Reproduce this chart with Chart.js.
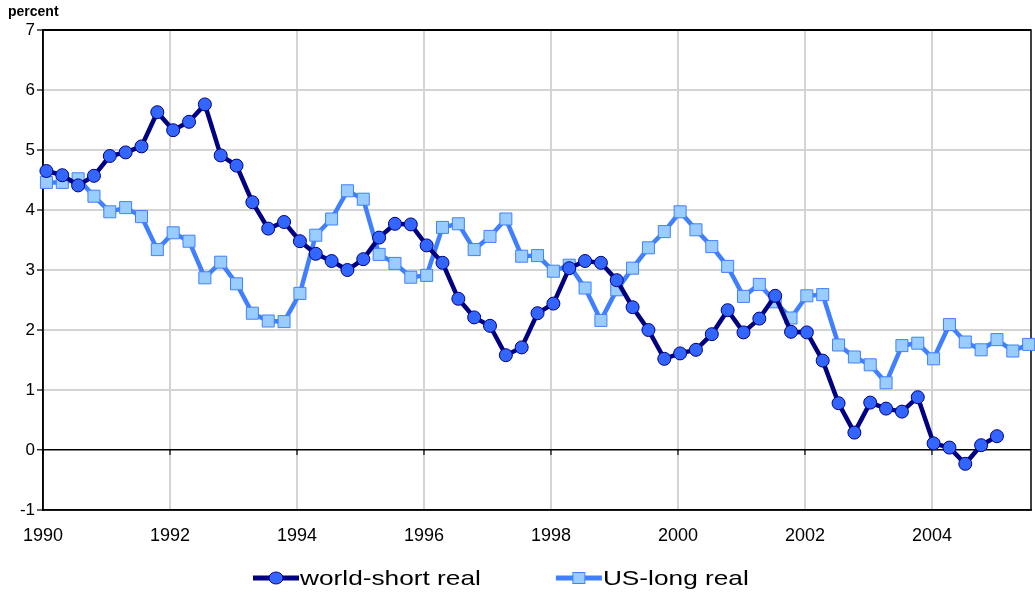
<!DOCTYPE html>
<html>
<head>
<meta charset="utf-8">
<script src="https://cdn.jsdelivr.net/npm/chart.js@4/dist/chart.umd.min.js"></script>
<style>
  html, body { margin: 0; padding: 0; background: #fff; overflow: hidden; }
  #wrap { width: 1035px; height: 597px; }
</style>
</head>
<body>
<div id="wrap"><canvas id="canvasTipos"></canvas></div>
<script>
// quarterly series, 1990Q1 onwards
var startYear = 1990;
var worldShortReal = [4.65, 4.58, 4.41, 4.57, 4.90, 4.96, 5.06, 5.63, 5.33, 5.47,
	5.76, 4.91, 4.74, 4.13, 3.69, 3.80, 3.48, 3.27, 3.15, 3.00,
	3.18, 3.54, 3.77, 3.76, 3.41, 3.12, 2.52, 2.21, 2.07, 1.58,
	1.71, 2.28, 2.44, 3.03, 3.15, 3.12, 2.83, 2.38, 2.00, 1.52,
	1.61, 1.67, 1.93, 2.33, 1.96, 2.19, 2.57, 1.97, 1.96, 1.49,
	0.78, 0.29, 0.79, 0.69, 0.64, 0.88, 0.11, 0.04, -0.23, 0.08, 0.23];
var usLongReal = [4.46, 4.46, 4.52, 4.23, 3.97, 4.04, 3.89, 3.34, 3.62, 3.48,
	2.87, 3.13, 2.77, 2.28, 2.15, 2.14, 2.61, 3.58, 3.85, 4.32,
	4.18, 3.26, 3.11, 2.88, 2.91, 3.71, 3.77, 3.34, 3.56, 3.85,
	3.23, 3.24, 2.98, 3.08, 2.70, 2.16, 2.67, 3.03, 3.37, 3.64,
	3.97, 3.67, 3.39, 3.06, 2.56, 2.76, 2.47, 2.20, 2.57, 2.59,
	1.75, 1.55, 1.42, 1.12, 1.74, 1.78, 1.52, 2.09, 1.80, 1.67,
	1.84, 1.65, 1.76];
var seriesNames = ['world-short real', 'US-long real'];
var yearTicks = [1990, 1992, 1994, 1996, 1998, 2000, 2002, 2004];
var valueTicks = [-1, 0, 1, 2, 3, 4, 5, 6, 7];

var fuente = '"Liberation Sans", Arial, sans-serif';

// quarter i -> position on the time axis
function toPoints(values){
	var pts = [];
	values.forEach(function(v, i){
		pts.push({ x: startYear + 0.054 + i * 0.2495, y: v });
	});
	return pts;
}

// estilos de cada serie (linea + marcador)
var estilos = [
	{ line: '#000080', fill: '#3366ff', edge: '#000080', shape: 'circle' },
	{ line: '#4080ff', fill: '#99ccff', edge: '#4080ff', shape: 'rect' }
];

var marco = {
	id: 'marco',
	beforeDatasetsDraw: function(chart){
		var ctx = chart.ctx, a = chart.chartArea;
		var x = chart.scales.x, y = chart.scales.y;
		ctx.save();
		ctx.strokeStyle = '#000';
		ctx.lineWidth = 1.5;
		ctx.strokeRect(a.left, a.top, a.right - a.left, a.bottom - a.top);
		// small tick marks under the zero line
		var y0 = y.getPixelForValue(0);
		ctx.lineWidth = 1.2;
		yearTicks.forEach(function(t){
			var px = x.getPixelForValue(t);
			ctx.beginPath(); ctx.moveTo(px, y0); ctx.lineTo(px, y0 + 5); ctx.stroke();
		});
		ctx.restore();
	}
};

// leyenda propia, abajo
var leyenda = {
	id: 'leyenda',
	afterDraw: function(chart){
		var ctx = chart.ctx;
		var yc = 578;
		var xs = 253;
		var stretch = 1.25;
		ctx.save();
		ctx.font = '21px ' + fuente;
		ctx.textBaseline = 'middle';
		ctx.fillStyle = '#000';
		chart.data.datasets.forEach(function(ds, i){
			var e = estilos[i];
			ctx.strokeStyle = e.line;
			ctx.lineWidth = 5;
			ctx.beginPath(); ctx.moveTo(xs, yc); ctx.lineTo(xs + 46, yc); ctx.stroke();
			ctx.fillStyle = e.fill;
			ctx.strokeStyle = e.edge;
			ctx.lineWidth = 1;
			var cx = xs + 23;
			if(e.shape == 'circle'){
				ctx.beginPath(); ctx.ellipse(cx, yc, 7, 6, 0, 0, Math.PI * 2); ctx.fill(); ctx.stroke();
			} else {
				ctx.fillRect(cx - 6, yc - 5.5, 12, 11);
				ctx.strokeRect(cx - 6, yc - 5.5, 12, 11);
			}
			ctx.fillStyle = '#000';
			var tx = xs + 47;
			ctx.save();
			ctx.translate(tx, yc);
			ctx.scale(stretch, 1);
			ctx.fillText(ds.label, 0, 1);
			ctx.restore();
			xs = tx + ctx.measureText(ds.label).width * stretch + 75;
		});
		ctx.restore();
	}
};

window.onload = function(){
	var ctx = document.getElementById('canvasTipos').getContext('2d');
	window.myLine = new Chart(ctx, {
		type: 'line',
		data: {
			datasets: [{
				label: seriesNames[0],
				data: toPoints(worldShortReal),
				borderColor: estilos[0].line,
				borderWidth: 4.5,
				pointStyle: 'circle',
				pointRadius: 6.5,
				pointBackgroundColor: estilos[0].fill,
				pointBorderColor: estilos[0].edge,
				pointBorderWidth: 1,
				tension: 0,
				clip: false,
				order: 1
			}, {
				label: seriesNames[1],
				data: toPoints(usLongReal),
				borderColor: estilos[1].line,
				borderWidth: 4.5,
				pointStyle: 'rect',
				pointRadius: 8.5,
				pointBackgroundColor: estilos[1].fill,
				pointBorderColor: estilos[1].edge,
				pointBorderWidth: 1,
				tension: 0,
				clip: false,
				order: 2
			}]
		},
		options: {
			responsive: true,
			maintainAspectRatio: false,
			animation: false,
			layout: { autoPadding: false, padding: { left: 8, right: 4, top: 0, bottom: 40 } },
			scales: {
				x: {
					type: 'linear',
					min: 1990,
					max: 2005.56,
					afterFit: function(s){
						s.height = 47;
						s.paddingLeft = 0;
						s.paddingRight = 0;
					},
					afterBuildTicks: function(s){
						s.ticks = yearTicks.map(function(v){ return { value: v }; });
					},
					ticks: {
						callback: function(v){ return String(v); },
						font: { family: fuente, size: 18 },
						color: '#000',
						padding: 15,
						maxRotation: 0
					},
					grid: { color: '#d4d4d4', lineWidth: 2, drawTicks: false },
					border: { color: '#000', width: 1.5 }
				},
				y: {
					min: -1,
					max: 7,
					afterFit: function(s){ s.width = 35; },
					afterBuildTicks: function(s){
						s.ticks = valueTicks.map(function(v){ return { value: v }; });
					},
					ticks: {
						font: { family: fuente, size: 17 },
						color: '#000',
						padding: 2
					},
					grid: {
						color: function(c){ return (c.tick && (c.tick.value == 0 || c.tick.value == 7)) ? '#000' : '#d4d4d4'; },
						lineWidth: function(c){ return (c.tick && c.tick.value == 0) ? 1.5 : 2; },
						tickColor: '#000',
						tickLength: 6,
						tickWidth: 1.2
					},
					border: { color: '#000', width: 1.5 }
				}
			},
			plugins: {
				title: {
					display: true,
					text: 'percent',
					align: 'start',
					color: '#000',
					font: { family: fuente, size: 14, weight: 'bold' },
					padding: { top: 4, bottom: 9.2 }
				},
				legend: { display: false },
				tooltip: { enabled: false }
			}
		},
		plugins: [marco, leyenda]
	});
};
</script>
</body>
</html>
